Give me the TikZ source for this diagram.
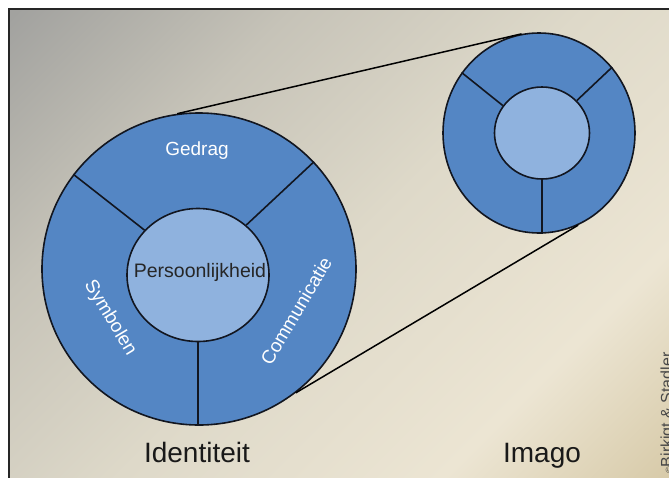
\documentclass[tikz,border=0pt]{standalone}
\usepackage{fontspec}
\setmainfont{Liberation Sans}
\usetikzlibrary{shapes.geometric}
\definecolor{ringblue}{RGB}{84,134,196}
\definecolor{coreblue}{RGB}{143,178,222}
\definecolor{edgeline}{RGB}{18,22,32}
\definecolor{bgA}{RGB}{162,162,159}
\definecolor{bgB}{RGB}{198,195,184}
\definecolor{bgC}{RGB}{222,217,201}
\definecolor{bgD}{RGB}{236,229,211}
\definecolor{bgE}{RGB}{212,198,162}
\pgfdeclarehorizontalshading{bgfade}{100bp}{color(0bp)=(bgA); color(15bp)=(bgA); color(32bp)=(bgB); color(50bp)=(bgC); color(70bp)=(bgD); color(86bp)=(bgE); color(100bp)=(bgE)}

\begin{document}
\begin{tikzpicture}[
        x=1pt, y=-1pt,
        ring/.style={ellipse, draw=edgeline, line width=1.6pt, fill=ringblue, inner sep=0pt},
        core/.style={ellipse, draw=edgeline, line width=1.6pt, fill=coreblue, inner sep=0pt},
        part/.style={text=white, inner sep=0pt, font=\fontsize{19}{22}\selectfont},
        title/.style={anchor=base, inner sep=0pt, text=black!90, font=\fontsize{28}{32}\selectfont},
        sep/.style={draw=edgeline, line width=1.6pt},
        zoomline/.style={draw=black, line width=1.5pt}
    ]
        \useasboundingbox (0,0) rectangle (669,477);
        \clip (0,0) rectangle (669,477);
        \fill[white] (0,0) rectangle (669,477);
        \shade[shading=bgfade, shading angle=-45] (9,9) rectangle (682,492);
        \draw[line width=2pt, black!85] (9,492) -- (9,9) -- (682,9);

        \node[ring, minimum width=314pt, minimum height=312pt] (ident) at (199,269) {};
        \node[ring, minimum width=192pt, minimum height=200pt] (imago) at (539,133) {};
        \draw[zoomline] (ident.98)  -- (imago.100);
        \draw[zoomline] (ident.-52) -- (imago.-67);

        \node[core, minimum width=142pt, minimum height=133pt] (pers) at (198,275) {};
        \draw[sep] (pers.140) -- (ident.143);
        \draw[sep] (pers.46)  -- (ident.43);
        \draw[sep] (pers.-90) -- (pers.-90 |- ident.south);
        \node[anchor=base, inner sep=0pt, text=black!85, font=\fontsize{19.5}{22}\selectfont] (perstxt) at (200,277) {Persoonlijkheid};

        \node[part, anchor=base] (gedrag) at (197,155) {Gedrag};
        \node[part, rotate=-59]  (symb)   at (110,318) {Symbolen};
        \node[part, rotate=59.5] (comm)   at (296,311) {Communicatie};

        \node[core, minimum width=95pt, minimum height=92pt] (imcore) at (542,133) {};
        \draw[sep] (imcore.145) -- (imago.142);
        \draw[sep] (imcore.43)  -- (imago.42);
        \draw[sep] (imcore.-90) -- (imcore.-90 |- imago.south);

        \node[title] (tid) at (197,462) {Identiteit};
        \node[title] (tim) at (542,462) {Imago};

        \node[rotate=90, anchor=base west, inner sep=0pt, text=black!72, font=\fontsize{16}{16}\selectfont] (copyr) at (672,474) {{\fontsize{9}{9}\selectfont ©}Birkigt \& Stadler};
    \end{tikzpicture}
\end{document}
